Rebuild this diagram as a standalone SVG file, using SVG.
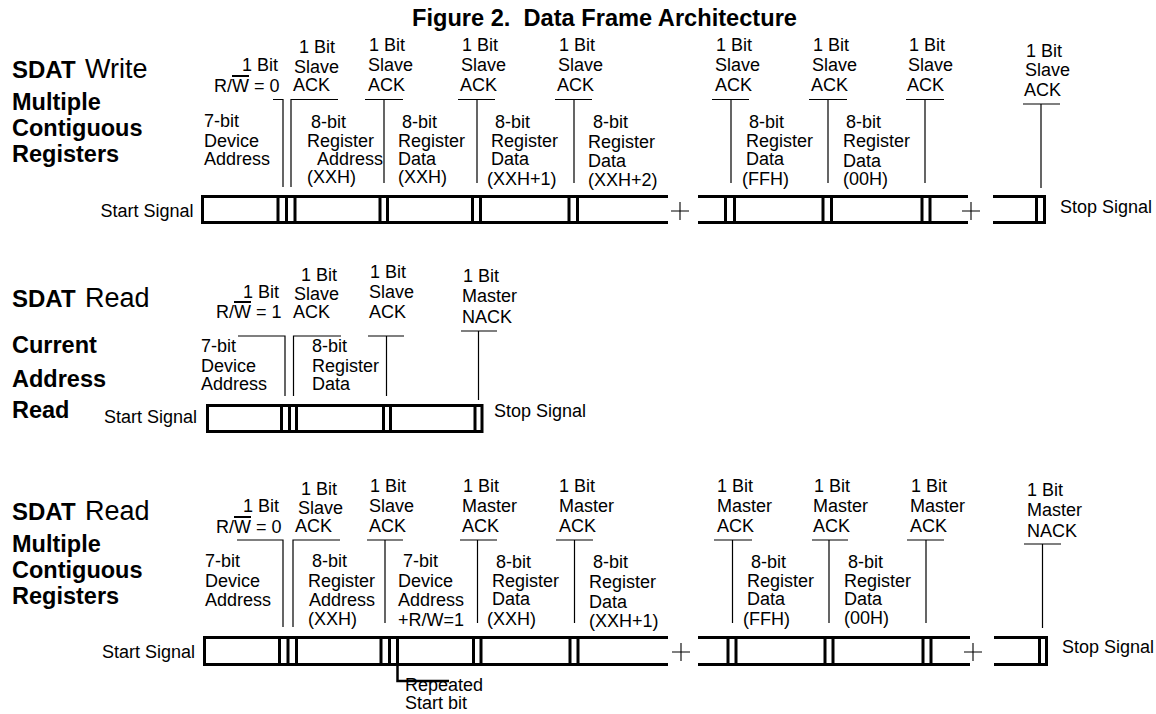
<svg xmlns="http://www.w3.org/2000/svg" width="1156" height="714" viewBox="0 0 1156 714">
<style>
text { font-family: "Liberation Sans", Arial, sans-serif; font-size: 18px; fill: #000; }
.title { font-weight: bold; font-size: 23px; }
.hb { font-weight: bold; font-size: 24px; }
.hr { font-size: 27px; }
.hl { font-weight: bold; font-size: 23.5px; }
.frame { fill: none; stroke: #000; stroke-width: 3; stroke-linejoin: miter; }
.bar { stroke: #000; stroke-width: 3; }
.lead { fill: none; stroke: #000; stroke-width: 1.2; }
.ovl { stroke: #000; stroke-width: 2; }
.plus { fill: none; stroke: #000; stroke-width: 1.1; }
.rep { fill: none; stroke: #000; stroke-width: 2.5; }
</style>
<rect width="1156" height="714" fill="#fff"/>
<text class="title" x="412" y="26" textLength="385" lengthAdjust="spacingAndGlyphs" xml:space="preserve">Figure 2.  Data Frame Architecture</text>

<!-- Row 1: Write multiple -->
<g id="row1-label">
<text class="hb" x="12" y="78">SDAT</text><text class="hr" x="85" y="78">Write</text>
<text class="hl" x="12" y="110">Multiple</text>
<text class="hl" x="12" y="136">Contiguous</text>
<text class="hl" x="12" y="162">Registers</text>
</g>
<g id="row1-frame">
<text x="193.5" y="217" text-anchor="end">Start Signal</text>
<path class="frame" d="M668,196.5 H202.5 V222.5 H668"/>
<path class="frame" d="M698,196.5 H968 M698,222.5 H968"/>
<path class="frame" d="M993,196.5 H1044.5 V222.5 H993"/>
<path class="bar" d="M278,196.5V222.5 M286.5,196.5V222.5 M295,196.5V222.5 M380,196.5V222.5 M387.5,196.5V222.5 M472.5,196.5V222.5 M480.5,196.5V222.5 M569,196.5V222.5 M577.5,196.5V222.5 M725.5,196.5V222.5 M734.5,196.5V222.5 M823,196.5V222.5 M831.5,196.5V222.5 M922,196.5V222.5 M930,196.5V222.5 M1036.5,196.5V222.5"/>
<path class="plus" d="M671,211 H689 M680,202 V220 M962,211 H980 M971,202 V220"/>
<text x="1060" y="213">Stop Signal</text>
</g>
<g id="row1-fields">
<text x="242" y="71">1 Bit</text>
<text x="214" y="92">R/W = 0</text>
<line class="ovl" x1="232" y1="76" x2="249" y2="76"/>
<text x="299" y="53">1 Bit</text><text x="294" y="73">Slave</text><text x="293" y="91">ACK</text>
<text x="369" y="51">1 Bit</text><text x="368" y="71">Slave</text><text x="368" y="91">ACK</text>
<text x="462" y="51">1 Bit</text><text x="461" y="71">Slave</text><text x="460" y="91">ACK</text>
<text x="559" y="51">1 Bit</text><text x="558" y="71">Slave</text><text x="557" y="91">ACK</text>
<text x="716" y="51">1 Bit</text><text x="715" y="71">Slave</text><text x="715" y="91">ACK</text>
<text x="813" y="51">1 Bit</text><text x="812" y="71">Slave</text><text x="811" y="91">ACK</text>
<text x="909" y="51">1 Bit</text><text x="908" y="71">Slave</text><text x="907" y="91">ACK</text>
<text x="1026" y="57">1 Bit</text><text x="1025" y="76">Slave</text><text x="1024" y="96">ACK</text>
<text x="204" y="127">7-bit</text><text x="204" y="146.5">Device</text><text x="204" y="165">Address</text>
<text x="311" y="128">8-bit</text><text x="307" y="147">Register</text><text x="317" y="165">Address</text><text x="307" y="183">(XXH)</text>
<text x="402" y="128">8-bit</text><text x="398" y="147">Register</text><text x="398" y="165">Data</text><text x="398" y="183">(XXH)</text>
<text x="495" y="128">8-bit</text><text x="491" y="147">Register</text><text x="491" y="165">Data</text><text x="487" y="185">(XXH+1)</text>
<text x="593" y="128">8-bit</text><text x="588" y="148">Register</text><text x="588" y="167">Data</text><text x="588" y="186">(XXH+2)</text>
<text x="749" y="128">8-bit</text><text x="746" y="147">Register</text><text x="746" y="165">Data</text><text x="742" y="185">(FFH)</text>
<text x="846" y="128">8-bit</text><text x="843" y="147">Register</text><text x="843" y="167">Data</text><text x="843" y="185">(00H)</text>
</g>

<!-- Row 2: current address read -->
<g id="row2-label">
<text class="hb" x="12" y="307">SDAT</text><text class="hr" x="85" y="307">Read</text>
<text class="hl" x="12" y="353">Current</text>
<text class="hl" x="12" y="387">Address</text>
<text class="hl" x="12" y="418">Read</text>
</g>
<g id="row2-frame">
<text x="197" y="423" text-anchor="end">Start Signal</text>
<path class="frame" d="M207.5,405.5 H482 V431.5 H207.5 Z"/>
<path class="bar" d="M281.5,405.5V431.5 M289.5,405.5V431.5 M296.5,405.5V431.5 M383.5,405.5V431.5 M390.5,405.5V431.5 M475,405.5V431.5"/>
<text x="494" y="417">Stop Signal</text>
</g>
<g id="row2-fields">
<text x="243" y="298">1 Bit</text>
<text x="216" y="318">R/W = 1</text>
<line class="ovl" x1="234" y1="302" x2="251" y2="302"/>
<text x="301" y="281">1 Bit</text><text x="294" y="299.5">Slave</text><text x="293" y="318">ACK</text>
<text x="370" y="278">1 Bit</text><text x="369" y="298">Slave</text><text x="369" y="318">ACK</text>
<text x="463" y="282">1 Bit</text><text x="462" y="302">Master</text><text x="462" y="323">NACK</text>
<text x="201" y="352">7-bit</text><text x="201" y="372">Device</text><text x="201" y="390">Address</text>
<text x="312" y="352">8-bit</text><text x="312" y="372">Register</text><text x="312" y="390">Data</text>
</g>

<!-- Row 3: read multiple -->
<g id="row3-label">
<text class="hb" x="12" y="520">SDAT</text><text class="hr" x="85" y="520">Read</text>
<text class="hl" x="12" y="552">Multiple</text>
<text class="hl" x="12" y="578">Contiguous</text>
<text class="hl" x="12" y="604">Registers</text>
</g>
<g id="row3-frame">
<text x="195" y="658" text-anchor="end">Start Signal</text>
<path class="frame" d="M668,637.5 H204.5 V664.5 H668"/>
<path class="frame" d="M698,637.5 H970 M698,664.5 H970"/>
<path class="frame" d="M994,637.5 H1046.5 V664.5 H994"/>
<path class="bar" d="M279.5,637.5V664.5 M288,637.5V664.5 M296.5,637.5V664.5 M381,637.5V664.5 M389.5,637.5V664.5 M397.5,637.5V664.5 M473.5,637.5V664.5 M481,637.5V664.5 M570,637.5V664.5 M578,637.5V664.5 M728,637.5V664.5 M736,637.5V664.5 M825,637.5V664.5 M833,637.5V664.5 M923,637.5V664.5 M931,637.5V664.5 M1039.5,637.5V664.5"/>
<path class="plus" d="M672,652 H690 M681,643 V661 M964,652 H982 M973,643 V661"/>
<text x="1062" y="653">Stop Signal</text>
</g>
<g id="row3-fields">
<text x="243" y="512">1 Bit</text>
<text x="216" y="533">R/W = 0</text>
<line class="ovl" x1="234" y1="517" x2="251" y2="517"/>
<text x="301" y="495">1 Bit</text><text x="298" y="514">Slave</text><text x="295" y="532">ACK</text>
<text x="370" y="492">1 Bit</text><text x="369" y="512">Slave</text><text x="369" y="532">ACK</text>
<text x="463" y="492">1 Bit</text><text x="462" y="512">Master</text><text x="462" y="532">ACK</text>
<text x="559" y="492">1 Bit</text><text x="559" y="512">Master</text><text x="559" y="532">ACK</text>
<text x="717" y="492">1 Bit</text><text x="717" y="512">Master</text><text x="717" y="532">ACK</text>
<text x="814" y="492">1 Bit</text><text x="813" y="512">Master</text><text x="813" y="532">ACK</text>
<text x="911" y="492">1 Bit</text><text x="910" y="512">Master</text><text x="910" y="532">ACK</text>
<text x="1027" y="496">1 Bit</text><text x="1027" y="516">Master</text><text x="1027" y="537">NACK</text>
<text x="205" y="567">7-bit</text><text x="205" y="587">Device</text><text x="205" y="606">Address</text>
<text x="312" y="567">8-bit</text><text x="308" y="587">Register</text><text x="309" y="606">Address</text><text x="308" y="625">(XXH)</text>
<text x="403" y="567">7-bit</text><text x="398" y="587">Device</text><text x="398" y="606">Address</text><text x="398" y="626">+R/W=1</text>
<text x="496" y="568">8-bit</text><text x="492" y="587">Register</text><text x="492" y="605">Data</text><text x="487" y="625">(XXH)</text>
<text x="593" y="568">8-bit</text><text x="589" y="588">Register</text><text x="589" y="608">Data</text><text x="589" y="627">(XXH+1)</text>
<text x="751" y="568">8-bit</text><text x="747" y="587">Register</text><text x="747" y="605">Data</text><text x="743" y="625">(FFH)</text>
<text x="848" y="568">8-bit</text><text x="844" y="587">Register</text><text x="844" y="605">Data</text><text x="844" y="624">(00H)</text>
<text x="405" y="691">Repeated</text><text x="405" y="709">Start bit</text>
</g>

<g id="connectors">
<path class="lead" d="M273,99.5 H283 V187 M338,99.5 H291 V187 M365,99.5 H403 M384,99.5 V183 M458,99.5 H495 M477,99.5 V183 M555,99.5 H592 M574,99.5 V183 M712,99.5 H749 M731,99.5 V183 M809,99.5 H847 M828,99.5 V183 M906,99.5 H944 M925,99.5 V183 M1023,104 H1060 M1041,104 V188"/>
<path class="lead" d="M238,336 H285 V396 M341,336 H293.5 V396 M368,336 H404 M386.5,336 V396 M461,331 H497 M478.5,331 V400"/>
<path class="lead" d="M237,540 H283 V627 M340,540 H293 V627 M367,540 H403 M385,540 V623 M460,540 H497 M477.5,540 V623 M556,540 H593 M574.5,540 V623 M714,540 H752 M732.5,540 V623 M812,540 H848 M829,540 V623 M907,540 H944 M926,540 V623 M1024,544 H1061 M1042.5,544 V628"/>
<path class="rep" d="M397.5,664.5 V681 H449"/>
</g>
</svg>
